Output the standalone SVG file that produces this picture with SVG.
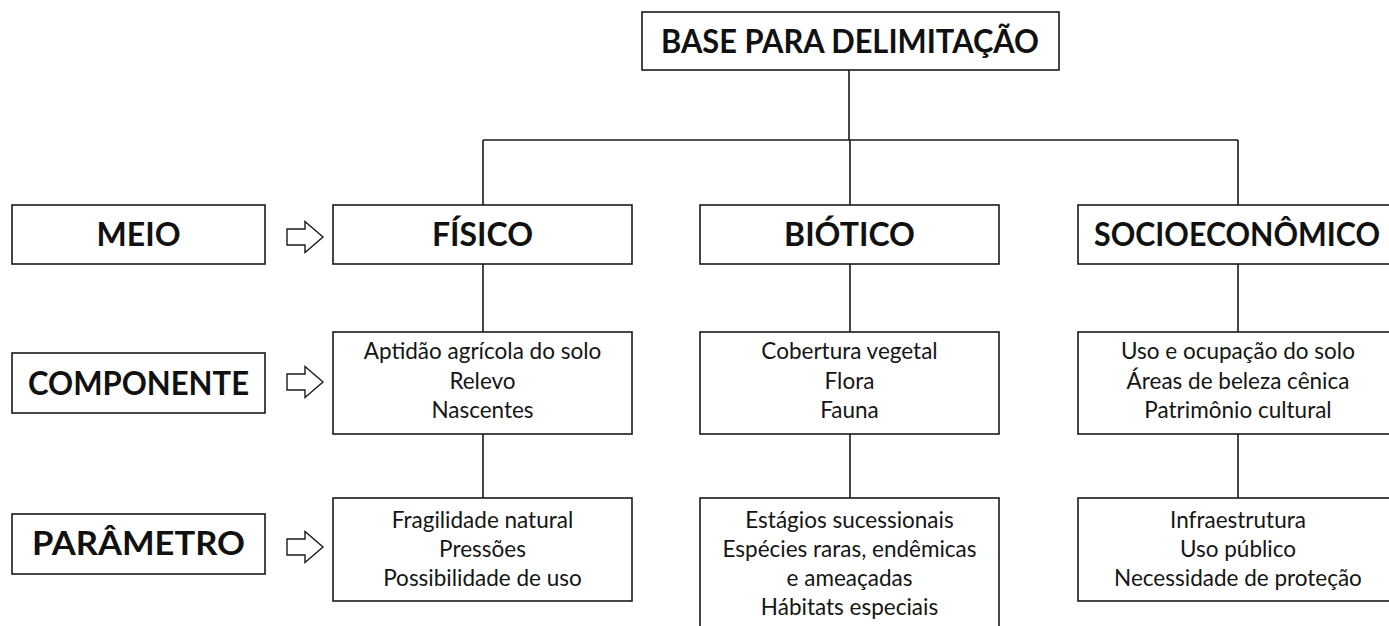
<svg xmlns="http://www.w3.org/2000/svg" width="1389" height="626" viewBox="0 0 1389 626">
<style>
.box{fill:#fff;stroke:#1a1a1a;stroke-width:1.6}
.ln{fill:none;stroke:#1a1a1a;stroke-width:1.6}
.arr{fill:#fff;stroke:#1a1a1a;stroke-width:1.4;stroke-linejoin:miter}
.h{font-family:Lato,"Open Sans","Liberation Sans",sans-serif;font-weight:bold;font-size:32px;fill:#111;text-anchor:middle}
.t{font-family:Lato,"Open Sans","Liberation Sans",sans-serif;font-size:22.5px;fill:#151515;text-anchor:middle}
</style>
<defs>
<path id="arrow" class="arr" d="M0,-8 H18 V-15.5 L36,0 L18,15.5 V8 H0 Z"/>
</defs>
<rect width="1389" height="626" fill="#fff"/>
<g id="connectors">
<path class="ln" d="M849,70 V140 M483,140 H1238 M483,140 V205 M850,140 V205 M1238,140 V205"/>
<path class="ln" d="M483,264 V332 M850,264 V332 M1238,264 V332"/>
<path class="ln" d="M483,434 V498 M850,434 V498 M1238,434 V498"/>
<use href="#arrow" x="287" y="237"/>
<use href="#arrow" x="287" y="382"/>
<use href="#arrow" x="287" y="547"/>
</g>
<g id="base">
<rect class="box" x="642" y="12" width="417" height="58"/>
<text class="h" x="850" y="53" textLength="378" lengthAdjust="spacingAndGlyphs">BASE PARA DELIMITAÇÃO</text>
</g>
<g id="meio">
<rect class="box" x="12" y="205" width="253" height="59"/>
<text class="h" x="138.5" y="246">MEIO</text>
</g>
<g id="componente">
<rect class="box" x="12" y="353" width="253" height="60"/>
<text class="h" x="138.5" y="395" textLength="221" lengthAdjust="spacingAndGlyphs">COMPONENTE</text>
</g>
<g id="parametro">
<rect class="box" x="12" y="514" width="253" height="60"/>
<text class="h" x="138.5" y="555" textLength="213" lengthAdjust="spacingAndGlyphs">PARÂMETRO</text>
</g>
<g id="fisico">
<rect class="box" x="333" y="205" width="299" height="59"/>
<text class="h" x="482.5" y="246">FÍSICO</text>
</g>
<g id="biotico">
<rect class="box" x="700" y="205" width="299" height="59"/>
<text class="h" x="849.5" y="246">BIÓTICO</text>
</g>
<g id="socioeconomico">
<rect class="box" x="1078" y="205" width="320" height="59"/>
<text class="h" x="1237" y="246" textLength="286" lengthAdjust="spacingAndGlyphs">SOCIOECONÔMICO</text>
</g>
<g id="fisico-componente">
<rect class="box" x="333" y="332" width="299" height="102"/>
<text class="t" x="482.5" y="359">Aptidão agrícola do solo</text>
<text class="t" x="482.5" y="388.5">Relevo</text>
<text class="t" x="482.5" y="418">Nascentes</text>
</g>
<g id="biotico-componente">
<rect class="box" x="700" y="332" width="299" height="102"/>
<text class="t" x="849.5" y="359">Cobertura vegetal</text>
<text class="t" x="849.5" y="388.5">Flora</text>
<text class="t" x="849.5" y="418">Fauna</text>
</g>
<g id="socio-componente">
<rect class="box" x="1078" y="332" width="320" height="102"/>
<text class="t" x="1238" y="359">Uso e ocupação do solo</text>
<text class="t" x="1238" y="388.5">Áreas de beleza cênica</text>
<text class="t" x="1238" y="418">Patrimônio cultural</text>
</g>
<g id="fisico-parametro">
<rect class="box" x="333" y="498" width="299" height="103"/>
<text class="t" x="482.5" y="528">Fragilidade natural</text>
<text class="t" x="482.5" y="557">Pressões</text>
<text class="t" x="482.5" y="586">Possibilidade de uso</text>
</g>
<g id="biotico-parametro">
<rect class="box" x="700" y="498" width="299" height="140"/>
<text class="t" x="849.5" y="528">Estágios sucessionais</text>
<text class="t" x="849.5" y="557">Espécies raras, endêmicas</text>
<text class="t" x="849.5" y="586">e ameaçadas</text>
<text class="t" x="849.5" y="615">Hábitats especiais</text>
</g>
<g id="socio-parametro">
<rect class="box" x="1078" y="498" width="320" height="103"/>
<text class="t" x="1238" y="528">Infraestrutura</text>
<text class="t" x="1238" y="557">Uso público</text>
<text class="t" x="1238" y="586">Necessidade de proteção</text>
</g>
</svg>
